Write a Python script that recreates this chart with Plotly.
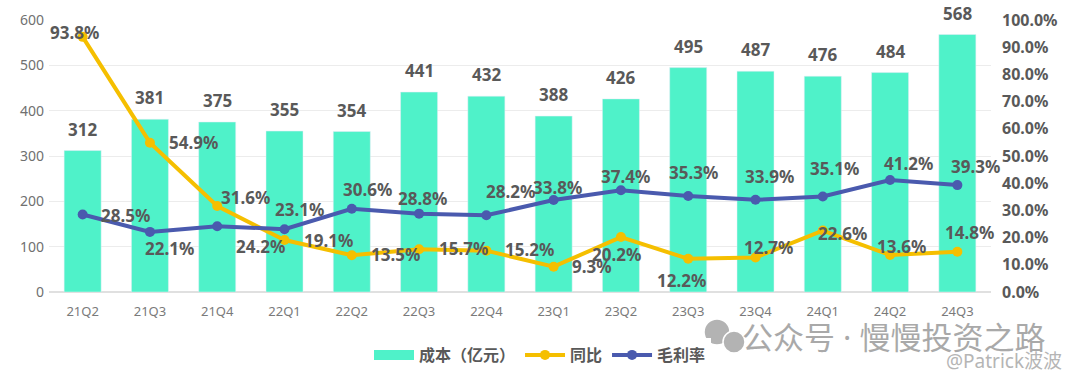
import plotly.graph_objects as go

quarters = ["21Q2", "21Q3", "21Q4", "22Q1", "22Q2", "22Q3", "22Q4",
            "23Q1", "23Q2", "23Q3", "23Q4", "24Q1", "24Q2", "24Q3"]
cost = [312, 381, 375, 355, 354, 441, 432, 388, 426, 495, 487, 476, 484, 568]
yoy = [93.8, 54.9, 31.6, 19.1, 13.5, 15.7, 15.2, 9.3, 20.2, 12.2, 12.7, 22.6, 13.6, 14.8]
margin = [28.5, 22.1, 24.2, 23.1, 30.6, 28.8, 28.2, 33.8, 37.4, 35.3, 33.9, 35.1, 41.2, 39.3]

left_ticks = [0, 100, 200, 300, 400, 500, 600]
right_ticks = [0, 10, 20, 30, 40, 50, 60, 70, 80, 90, 100]

# label offsets (pixels) for the line labels
yoy_off = [(-8, 4), (44, 0), (28, 9), (44, 0), (44, 1), (44, 1), (43, 1), (38, 0),
           (-4, -17), (-7, -22), (13, 10), (20, -3), (11, 9), (12, 19)]
mar_off = [(43, -1), (20, -17), (43, -20), (15, 20), (16, 19), (3, 15), (24, 24),
           (4, 13), (5, 14), (5, 23), (14, 23), (12, 28), (18, 16), (18, 19)]

TEAL = "#4FF2C9"
YELLOW = "#F5BF00"
BLUE = "#4A5AAE"
TXT = "#595959"
FONT = "Noto Sans, Noto Sans CJK SC, sans-serif"

L, R, T, B = 49, 89, 20, 90
W, H = 1080, 382
PW, PH = W - L - R, H - T - B


def px_to_paper(xp, yp):
    return (xp - L) / PW, (H - B - yp) / PH


fig = go.Figure()
fig.add_trace(go.Bar(x=quarters, y=cost, name="成本（亿元）", marker_color=TEAL,
                     width=0.55, yaxis="y", showlegend=False))
fig.add_trace(go.Scatter(x=[None], y=[None], name="<b>成本（亿元）</b>", mode="lines",
                         line=dict(color=TEAL, width=12), yaxis="y"))
fig.add_trace(go.Scatter(x=quarters, y=yoy, name="<b>同比</b>", mode="lines+markers",
                         line=dict(color=YELLOW, width=4), marker=dict(size=10, color=YELLOW),
                         yaxis="y2"))
fig.add_trace(go.Scatter(x=quarters, y=margin, name="<b>毛利率</b>", mode="lines+markers",
                         line=dict(color=BLUE, width=4), marker=dict(size=10, color=BLUE),
                         yaxis="y2"))

annotations = []
for q, v in zip(quarters, cost):
    annotations.append(dict(x=q, y=v, xref="x", yref="y", text=f"<b>{v}</b>",
                            showarrow=False, yanchor="bottom", yshift=8,
                            font=dict(size=17, color=TXT, family=FONT)))
for q, v, (dx, dy) in zip(quarters, yoy, yoy_off):
    annotations.append(dict(x=q, y=v, xref="x", yref="y2", text=f"<b>{v:.1f}%</b>",
                            showarrow=False, xshift=dx, yshift=dy,
                            font=dict(size=17, color=TXT, family=FONT)))
for q, v, (dx, dy) in zip(quarters, margin, mar_off):
    annotations.append(dict(x=q, y=v, xref="x", yref="y2", text=f"<b>{v:.1f}%</b>",
                            showarrow=False, xshift=dx, yshift=dy,
                            font=dict(size=17, color=TXT, family=FONT)))
# watermark texts
wx, wy = px_to_paper(740, 337)
annotations.append(dict(x=wx, y=wy, xref="paper", yref="paper",
                        text="公众号 · 慢慢投资之路", showarrow=False, xanchor="left",
                        yanchor="middle", font=dict(size=31, color="#a9a9a9", family=FONT)))
px_, py_ = px_to_paper(1064, 361)
annotations.append(dict(x=px_, y=py_, xref="paper", yref="paper",
                        text="@Patrick波波", showarrow=False, xanchor="right",
                        yanchor="middle", font=dict(size=19, color="#b5b5b5", family=FONT)))

# small wechat-like watermark icon
shapes = []
for cx, cy, r in [(717, 332, 13), (734, 342, 11)]:
    x0, y0 = px_to_paper(cx - r, cy + r)
    x1, y1 = px_to_paper(cx + r, cy - r)
    shapes.append(dict(type="circle", xref="paper", yref="paper", x0=x0, y0=y0, x1=x1, y1=y1,
                       fillcolor="#b3b3b3", line=dict(color="white", width=1.5)))

fig.update_layout(
    width=W, height=H,
    margin=dict(l=L, r=R, t=T, b=B, autoexpand=False),
    plot_bgcolor="white", paper_bgcolor="white",
    font=dict(family=FONT, color=TXT),
    bargap=0.45,
    showlegend=True,
    legend=dict(orientation="h", x=0.5, xref="container", xanchor="center",
                y=1 - 355 / 382, yref="container", yanchor="middle",
                font=dict(size=16, color=TXT, family=FONT), traceorder="normal",
                itemwidth=40, tracegroupgap=0),
    xaxis=dict(type="category", range=[-0.5, 13.5], tickfont=dict(size=13, color="#7a7a7a"),
               showline=False, showgrid=False, ticks="", ticklabelstandoff=10,
               automargin=False),
    yaxis=dict(range=[0, 600], tickvals=left_ticks, showgrid=True, gridcolor="#ececec",
               gridwidth=1, zeroline=True, zerolinecolor="#e0e0e0",
               tickfont=dict(size=14, color="#707070"), ticklabelstandoff=4,
               automargin=False),
    yaxis2=dict(range=[0, 100], tickvals=right_ticks, overlaying="y", side="right",
                showgrid=False, zeroline=False,
                ticktext=[f"<b>{t:.1f}%</b>" for t in right_ticks],
                tickmode="array",
                tickfont=dict(size=16, color=TXT), ticklabelstandoff=10,
                automargin=False),
    annotations=annotations,
    shapes=shapes,
)

fig.write_html("out.html", config={"displayModeBar": False},
               post_script="document.body.style.margin='0px';")
